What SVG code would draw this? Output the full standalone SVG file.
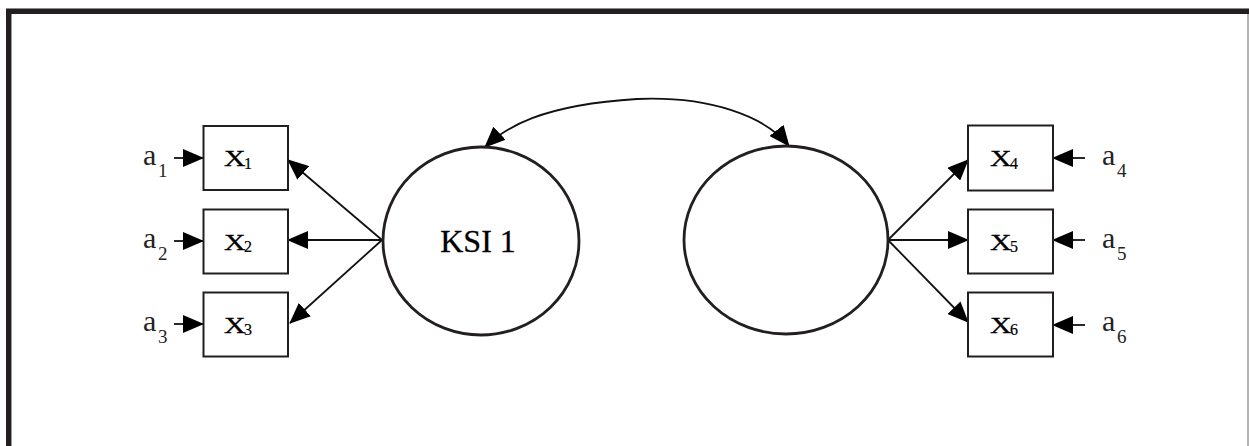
<svg xmlns="http://www.w3.org/2000/svg" width="1249" height="446" viewBox="0 0 1249 446">
  <style>
    .frame { fill: #231f20; }
    .box { fill: #fff; stroke: #231f20; stroke-width: 2; }
    .latent { fill: #fff; stroke: #231f20; stroke-width: 2.8; }
    .edge { fill: none; stroke: #111; stroke-width: 1.8; marker-end: url(#head); }
    .xl { font-family: "Liberation Serif", "Times New Roman", serif; font-size: 23px; fill: #000; stroke: #000; stroke-width: 0.3; }
    .xs { font-family: "Liberation Serif", "Times New Roman", serif; font-size: 16px; fill: #000; stroke: #000; stroke-width: 0.2; }
    .al { font-family: "Liberation Serif", "Times New Roman", serif; font-size: 30px; fill: #222; }
    .as { font-family: "Liberation Serif", "Times New Roman", serif; font-size: 19px; fill: #222; }
    .ksi { font-family: "Liberation Serif", "Times New Roman", serif; font-size: 32px; fill: #000; stroke: #000; stroke-width: 0.3; }
  </style>
  <defs>
    <marker id="head" markerUnits="userSpaceOnUse" viewBox="0 0 21 18" markerWidth="21" markerHeight="18" refX="20" refY="9" orient="auto">
      <path d="M0,0 L21,9 L0,18 Z" fill="#000"/>
    </marker>
    <marker id="tail" markerUnits="userSpaceOnUse" viewBox="0 0 21 18" markerWidth="21" markerHeight="18" refX="20" refY="9" orient="auto-start-reverse">
      <path d="M0,0 L21,9 L0,18 Z" fill="#000"/>
    </marker>
  </defs>

  <rect width="1249" height="446" fill="#fff"/>

  <!-- page frame: heavy top and left rules, thin right rule -->
  <g id="frame">
    <line x1="6" y1="8.5" x2="1249" y2="8.5" stroke="#8a8a8a" stroke-width="1"/>
    <rect class="frame" x="6" y="9" width="1243" height="5"/>
    <rect class="frame" x="6" y="9" width="5" height="437"/>
    <line x1="11.5" y1="14" x2="11.5" y2="446" stroke="#9a9a9a" stroke-width="1"/>
    <line x1="1248" y1="14" x2="1248" y2="446" stroke="#9a9a9a" stroke-width="1.5"/>
  </g>

  <!-- connectors -->
  <g id="connectors">
    <!-- covariance between the two latent variables -->
    <path class="edge" d="M485,147 C505,128 540,105 637,99 C710,96 765,116 789,146" marker-start="url(#tail)"/>
    <!-- loadings of KSI 1 -->
    <line class="edge" x1="382" y1="240" x2="288" y2="160"/>
    <line class="edge" x1="382" y1="240" x2="288" y2="240"/>
    <line class="edge" x1="382" y1="240" x2="290" y2="323"/>
    <!-- loadings of the second factor -->
    <line class="edge" x1="888" y1="240" x2="968" y2="160"/>
    <line class="edge" x1="888" y1="240" x2="968" y2="240"/>
    <line class="edge" x1="888" y1="240" x2="968" y2="322"/>
    <!-- error terms -->
    <line class="edge" x1="174" y1="158" x2="203" y2="158"/>
    <line class="edge" x1="174" y1="241" x2="203" y2="241"/>
    <line class="edge" x1="174" y1="324" x2="203" y2="324"/>
    <line class="edge" x1="1085" y1="158" x2="1053" y2="158"/>
    <line class="edge" x1="1085" y1="240" x2="1053" y2="240"/>
    <line class="edge" x1="1085" y1="325" x2="1053" y2="325"/>
  </g>

  <!-- latent variables -->
  <g id="ksi1">
    <ellipse class="latent" cx="481" cy="241" rx="98" ry="94"/>
    <text class="ksi" x="478" y="252" text-anchor="middle">KSI 1</text>
  </g>
  <g id="ksi2">
    <ellipse class="latent" cx="786" cy="240" rx="102" ry="94"/>
  </g>

  <!-- observed indicators -->
  <g id="x1">
    <rect class="box" x="203.5" y="126" width="84.5" height="64"/>
    <text class="xl" transform="translate(224,166) scale(1.3,1)">X</text>
    <text class="xs" x="244" y="168.5">1</text>
  </g>
  <g id="x2">
    <rect class="box" x="203.5" y="209.5" width="84.5" height="64"/>
    <text class="xl" transform="translate(224,249.5) scale(1.3,1)">X</text>
    <text class="xs" x="244" y="252">2</text>
  </g>
  <g id="x3">
    <rect class="box" x="203.5" y="292.5" width="84.5" height="64"/>
    <text class="xl" transform="translate(224,332.5) scale(1.3,1)">X</text>
    <text class="xs" x="244" y="335">3</text>
  </g>
  <g id="x4">
    <rect class="box" x="968" y="125.5" width="85" height="65"/>
    <text class="xl" transform="translate(990,166) scale(1.3,1)">X</text>
    <text class="xs" x="1010" y="168.5">4</text>
  </g>
  <g id="x5">
    <rect class="box" x="968" y="209.5" width="85" height="64"/>
    <text class="xl" transform="translate(990,249.5) scale(1.3,1)">X</text>
    <text class="xs" x="1010" y="252">5</text>
  </g>
  <g id="x6">
    <rect class="box" x="968" y="292.5" width="85" height="64"/>
    <text class="xl" transform="translate(990,332.5) scale(1.3,1)">X</text>
    <text class="xs" x="1010" y="335">6</text>
  </g>

  <!-- error term labels -->
  <g id="a1"><text class="al" x="143" y="165">a</text><text class="as" x="158" y="177">1</text></g>
  <g id="a2"><text class="al" x="143" y="248">a</text><text class="as" x="158" y="260">2</text></g>
  <g id="a3"><text class="al" x="143" y="331">a</text><text class="as" x="158" y="343">3</text></g>
  <g id="a4"><text class="al" x="1102" y="165">a</text><text class="as" x="1117" y="177">4</text></g>
  <g id="a5"><text class="al" x="1102" y="248">a</text><text class="as" x="1117" y="260">5</text></g>
  <g id="a6"><text class="al" x="1102" y="331">a</text><text class="as" x="1117" y="343">6</text></g>
</svg>
